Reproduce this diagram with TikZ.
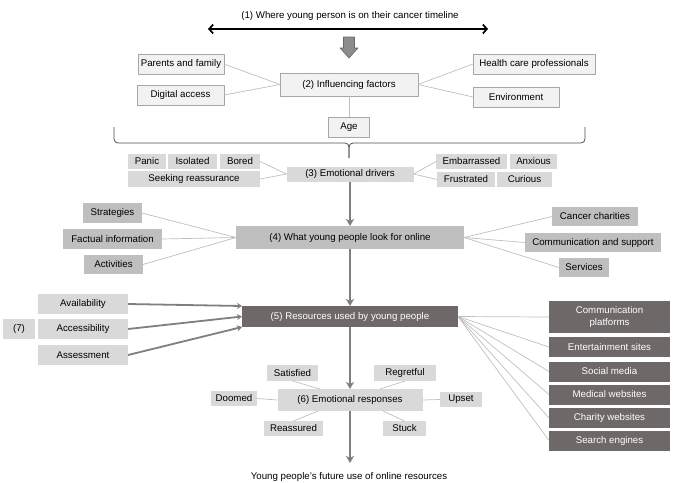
\documentclass[tikz,border=0pt]{standalone}
\usepackage{fontspec}
\setmainfont{Liberation Sans}
\usetikzlibrary{arrows.meta}

\definecolor{boxlight}{HTML}{F2F2F2}
\definecolor{boxedge}{HTML}{A6A6A6}
\definecolor{boxpale}{HTML}{D9D9D9}
\definecolor{boxmid}{HTML}{BFBFBF}
\definecolor{boxdark}{HTML}{6F6868}
\definecolor{linkgray}{HTML}{BFBFBF}
\definecolor{flowgray}{HTML}{7F7F7F}

\begin{document}
\begin{tikzpicture}[x=1pt,y=-1pt,line join=round,
  font=\fontsize{9.7}{12.5}\selectfont,
  every node/.style={inner sep=0pt,outer sep=0pt},
  factorbox/.style={draw=boxedge,fill=boxlight,line width=0.8pt},
  palebox/.style={fill=boxpale},
  midbox/.style={fill=boxmid},
  darkbox/.style={fill=boxdark,text=white,minimum width=121pt,minimum height=20pt,align=center},
  link/.style={draw=linkgray,line width=0.7pt},
  flow/.style={draw=flowgray,line width=2pt,-{Stealth[length=7pt,width=8pt,inset=2pt]}},
  pull/.style={draw=flowgray,line width=1.8pt,-{Stealth[length=5pt,width=6pt,inset=1.5pt]}},
  brace/.style={draw=black!70,line width=0.8pt,rounded corners=4pt}
]
\useasboundingbox (0,0) rectangle (676,482);

% timeline
\node (tl) at (350,16) {(1) Where young person is on their cancer timeline};
\coordinate (tlL) at (208,29);
\coordinate (tlR) at (488,29);
\draw[line width=1.7pt,{Straight Barb[length=4pt,width=9pt]}-{Straight Barb[length=4pt,width=9pt]}] (tlL) -- (tlR);
\draw[fill=flowgray!90,draw=black!60,line width=0.6pt]
  (343.5,37) -- (354.5,37) -- (354.5,48) -- (358,48) -- (349,58) -- (340,48) -- (343.5,48) -- cycle;

% (2) influencing factors
\node[factorbox,minimum width=138pt,minimum height=23pt] (inf) at (349,84.5) {(2) Influencing factors};
\node[factorbox,minimum width=86pt,minimum height=20pt] (par) at (181,64) {Parents and family};
\node[factorbox,minimum width=87pt,minimum height=20pt] (dig) at (180.5,95) {Digital access};
\node[factorbox,minimum width=122pt,minimum height=20pt] (hcp) at (534,64) {Health care professionals};
\node[factorbox,minimum width=86pt,minimum height=20pt] (env) at (516,97) {Environment};
\node[factorbox,minimum width=41pt,minimum height=20pt] (age) at (349,127) {Age};

\draw[link] (par.east) -- (inf.west);
\draw[link] (dig.east) -- (inf.west);
\draw[link] (hcp.west) -- (inf.east);
\draw[link] (env.west) -- (inf.east);
\draw[link] (age.north) -- (inf.south);

% brace
\coordinate (brL) at (114,127);
\coordinate (brR) at (585,127);
\coordinate (brT) at (349,158);
\draw[brace] (brL) |- (349,143) -- (brT);
\draw[brace] (brR) |- (349,143) -- (brT);

% (3) emotional drivers
\node[palebox,minimum width=127pt,minimum height=15pt] (emo) at (350,174) {(3) Emotional drivers};
\node[palebox,minimum width=38pt,minimum height=15pt] (pan) at (147,161.5) {Panic};
\node[palebox,minimum width=49pt,minimum height=15pt] (iso) at (192.5,161.5) {Isolated};
\node[palebox,minimum width=40pt,minimum height=15pt] (bor) at (240,161.5) {Bored};
\node[palebox,minimum width=132pt,minimum height=16pt] (see) at (194,179) {Seeking reassurance};
\node[palebox,minimum width=71pt,minimum height=15pt] (emb) at (471.5,161.5) {Embarrassed};
\node[palebox,minimum width=47pt,minimum height=15pt] (anx) at (533.5,161.5) {Anxious};
\node[palebox,minimum width=58pt,minimum height=15pt] (fru) at (466,179.5) {Frustrated};
\node[palebox,minimum width=55pt,minimum height=15pt] (cur) at (524.5,179.5) {Curious};

\draw[link] (bor.east) -- (emo.west);
\draw[link] (see.east) -- (emo.west);
\draw[link] (emb.west) -- (emo.east);
\draw[link] (fru.west) -- (emo.east);

% (4) what young people look for
\node[midbox,minimum width=228pt,minimum height=23pt] (wyp) at (350,237.5) {(4) What young people look for online};
\node[midbox,minimum width=59pt,minimum height=20pt] (str) at (112.5,213) {Strategies};
\node[midbox,minimum width=99pt,minimum height=20pt] (fac) at (112.5,239) {Factual information};
\node[midbox,minimum width=59pt,minimum height=19pt] (act) at (113.5,264.5) {Activities};
\node[midbox,minimum width=86pt,minimum height=19pt] (cch) at (595,216.5) {Cancer charities};
\node[midbox,minimum width=136pt,minimum height=19pt] (com) at (593,242.5) {Communication and support};
\node[midbox,minimum width=50pt,minimum height=19pt] (ser) at (584,267.5) {Services};

\foreach \n in {str,fac,act}{
  \draw[link] (\n.east) -- (wyp.west);
}
\foreach \n in {cch,com,ser}{
  \draw[link] (\n.west) -- (wyp.east);
}

% (5) resources
\node[darkbox,minimum width=216pt,minimum height=21pt] (res) at (350,316.5) {(5) Resources used by young people};
\node[palebox,minimum width=90pt,minimum height=20pt] (ava) at (83,304) {Availability};
\node[palebox,minimum width=90pt,minimum height=20pt] (acc) at (83,329) {Accessibility};
\node[palebox,minimum width=90pt,minimum height=20pt] (ass) at (83,355) {Assessment};
\node[palebox,minimum width=32pt,minimum height=20pt] (sev) at (19,329) {(7)};

\node[darkbox,minimum height=32pt] (cpl) at (609.5,317) {Communication\\platforms};
\node[darkbox] (ent) at (609.5,347) {Entertainment sites};
\node[darkbox] (soc) at (609.5,371.5) {Social media};
\node[darkbox] (med) at (609.5,394.5) {Medical websites};
\node[darkbox] (cha) at (609.5,418) {Charity websites};
\node[darkbox] (sea) at (609.5,440.5) {Search engines};

\foreach \n in {cpl,ent,soc,med,cha,sea}{
  \draw[link] (res.east) -- (\n.west);
}

\draw[pull] (ava.east) -- (res.north west);
\draw[pull] (acc.east) -- (res.west);
\draw[pull] (ass.east) -- (res.south west);

% (6) emotional responses
\node[palebox,minimum width=145pt,minimum height=22pt] (rsp) at (350,400) {(6) Emotional responses};
\node[palebox,minimum width=51pt,minimum height=16pt] (sat) at (292.5,373) {Satisfied};
\node[palebox,minimum width=62pt,minimum height=16pt] (reg) at (405,373) {Regretful};
\node[palebox,minimum width=46pt,minimum height=15pt] (doo) at (234,398.5) {Doomed};
\node[palebox,minimum width=42pt,minimum height=15pt] (ups) at (461,399.5) {Upset};
\node[palebox,minimum width=59pt,minimum height=15pt] (rea) at (293.5,428.5) {Reassured};
\node[palebox,minimum width=43pt,minimum height=15pt] (stu) at (404.5,428.5) {Stuck};

\draw[link] (sat.south) -- ([xshift=-30pt]rsp.north);
\draw[link] (reg.south) -- ([xshift=30pt]rsp.north);
\draw[link] (rea.north) -- ([xshift=-32pt]rsp.south);
\draw[link] (stu.north) -- ([xshift=33pt]rsp.south);
\draw[link] (doo.east) -- (rsp.west);
\draw[link] (ups.west) -- (rsp.east);

% main flow
\node (fut) at (349,477) {Young people’s future use of online resources};
\coordinate (fend) at (350,463);
\draw[flow] (emo.south) -- (wyp.north);
\draw[flow] (wyp.south) -- (res.north);
\draw[flow] (res.south) -- (rsp.north);
\draw[flow] (rsp.south) -- (fend);

\end{tikzpicture}
\end{document}
